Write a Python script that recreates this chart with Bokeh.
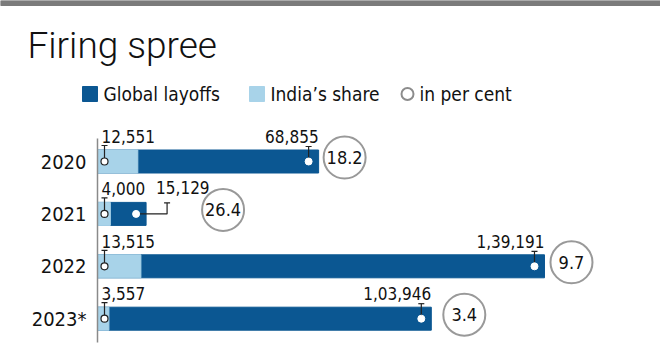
from bokeh.plotting import figure
from bokeh.models import Range1d, ColumnDataSource
from bokeh.core.properties import value
from bokeh.embed import file_html
from bokeh.resources import INLINE

# ---- data ----
years = ["2020", "2021", "2022", "2023*"]
global_layoffs = [68855, 15129, 139191, 103946]
india_share = [12551, 4000, 13515, 3557]
india_pct = [18.2, 26.4, 9.7, 3.4]
global_labels = ["68,855", "15,129", "1,39,191", "1,03,946"]
india_labels = ["12,551", "4,000", "13,515", "3,557"]
pct_labels = ["18.2", "26.4", "9.7", "3.4"]

# ---- layout / style ----
W, H = 660, 353
UPP = 311.4          # data units per pixel
X0 = 97              # pixel position of zero
DARK = "#0b5792"
LIGHT = "#a8d3e9"
FONT = value("DejaVu Sans Condensed, Roboto")
TITLE_FONT = value("Roboto Light")

def px(x):
    return (x - X0) * UPP

row_y = [161 + 52.4 * i for i in range(len(years))]
pct_dx = [26, 77, 27, 33]

p = figure(width=W, height=H, x_range=Range1d(px(0), px(W)), y_range=Range1d(H, 0),
           toolbar_location=None, output_backend="svg", min_border=0,
           x_axis_location=None, y_axis_location=None)
p.grid.visible = False
p.outline_line_color = None
p.background_fill_color = "white"
p.border_fill_color = "white"

# top grey band
p.quad(left=px(0), right=px(W), top=0, bottom=5, color="#7b7b7b")

# title
p.text(x=[px(27)], y=[45], text=["Firing spree"], text_font=TITLE_FONT,
       text_font_size="37px", text_baseline="middle", text_color="#111111")

# legend
p.scatter(x=[px(89.5)], y=[93.5], size=15, marker="square", color=DARK)
p.scatter(x=[px(256.5)], y=[93.5], size=15, marker="square", color=LIGHT)
p.scatter(x=[px(407)], y=[93.5], size=12, marker="circle", fill_color="white",
          line_color="#8c8c8c", line_width=2)
p.text(x=[px(103), px(270), px(419)], y=[93, 93, 93],
       text=["Global layoffs", "India\u2019s share", "in per cent"],
       text_font=FONT, text_font_size="19px", text_baseline="middle", text_color="#111111")

# bars
src = ColumnDataSource(dict(
    y=row_y, glob=global_layoffs, ind=india_share, year=years,
))
p.hbar(y="y", left=0, right="glob", height=23, color=DARK, source=src)
p.hbar(y="y", left=0, right="ind", height=23, color=LIGHT, source=src)

# axis line
p.segment(x0=[0], x1=[0], y0=[138], y1=[342], line_color="#8a8a8a", line_width=1.5)

# year labels
p.text(x=[px(86)] * len(years), y=row_y, text=years, text_font=FONT,
       text_font_size="20px", text_baseline="middle", text_align="right",
       text_color="#111111")

# India markers
ix = px(104)
for yy in row_y:
    p.segment(x0=[ix], x1=[ix], y0=[yy], y1=[yy - 16], line_color="#222222", line_width=1.2)
    p.segment(x0=[ix - 3 * UPP], x1=[ix + 3 * UPP], y0=[yy - 16], y1=[yy - 16],
              line_color="#222222", line_width=1.2)
p.scatter(x=[ix] * len(row_y), y=row_y, size=7, marker="circle", fill_color="white",
          line_color="#222222", line_width=1.2)

# India labels
p.text(x=[px(101)] * len(row_y), y=[yy - 25 for yy in row_y], text=india_labels,
       text_font=FONT, text_font_size="17px", text_baseline="middle", text_color="#111111")

# Global markers and labels
for i, (g, yy, lab) in enumerate(zip(global_layoffs, row_y, global_labels)):
    mx = g - 10 * UPP
    if years[i] == "2021":
        cx = g + 21 * UPP
        p.line(x=[mx, cx, cx], y=[yy, yy, yy - 11], line_color="#222222", line_width=1.2)
        p.segment(x0=[cx - 3 * UPP], x1=[cx + 3 * UPP], y0=[yy - 11], y1=[yy - 11],
                  line_color="#222222", line_width=1.2)
        p.text(x=[g + 10 * UPP], y=[yy - 26], text=[lab], text_font=FONT,
               text_font_size="17px", text_baseline="middle", text_color="#111111")
    else:
        p.segment(x0=[mx], x1=[mx], y0=[yy], y1=[yy - 15], line_color="#222222", line_width=1.2)
        p.segment(x0=[mx - 3 * UPP], x1=[mx + 3 * UPP], y0=[yy - 15], y1=[yy - 15],
                  line_color="#222222", line_width=1.2)
        p.text(x=[mx + 10 * UPP], y=[yy - 25], text=[lab], text_font=FONT,
               text_font_size="17px", text_baseline="middle", text_align="right",
               text_color="#111111")
    p.scatter(x=[mx], y=[yy], size=7, marker="circle", fill_color="white",
              line_color="white", line_width=1)

# percent circles
cxs = [g + d * UPP for g, d in zip(global_layoffs, pct_dx)]
cys = [yy - 4 for yy in row_y]
p.scatter(x=cxs, y=cys, size=42, marker="circle", fill_color="white",
          line_color="#999999", line_width=2)
p.text(x=cxs, y=cys, text=pct_labels, text_font=FONT, text_font_size="18px",
       text_baseline="middle", text_align="center", text_color="#111111")

open("out.html", "w").write(file_html(p, INLINE))
